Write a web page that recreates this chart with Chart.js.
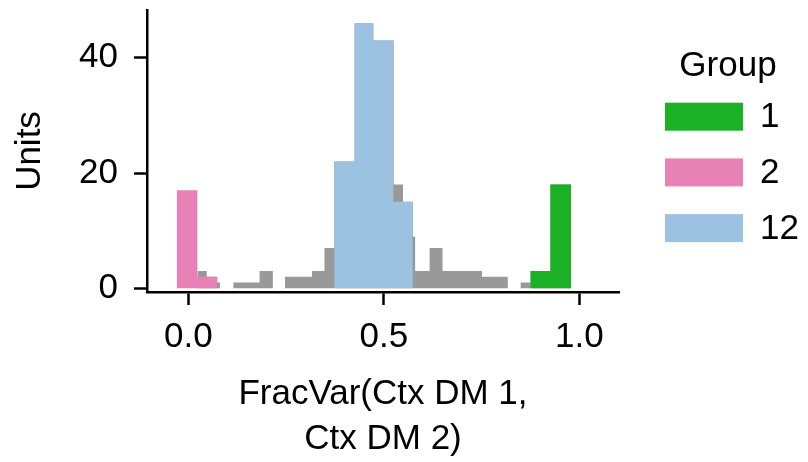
<!DOCTYPE html>
<html>
<head>
<meta charset="utf-8">
<script src="https://cdn.jsdelivr.net/npm/chart.js@4/dist/chart.umd.min.js"></script>
<style>
html,body{margin:0;padding:0;background:#fff;}
canvas{display:block;}
</style>
</head>
<body>
<canvas id="c" width="808" height="462"></canvas>
<script>
// ---- data (bin edges and counts) ----
const xTicks = [0.0, 0.5, 1.0];
const yTicks = [0, 20, 40];

// all units (grey, drawn behind)
const allEdges  = [0.023, 0.047, 0.074, 0.081, 0.115, 0.182, 0.216, 0.247, 0.316, 0.348, 0.373, 0.425, 0.473, 0.525, 0.549, 0.574, 0.580, 0.617, 0.650, 0.751, 0.817, 0.850, 0.875, 0.926, 0.979];
const allCounts = [3, 2, 1, 0, 1, 3, 0, 2, 3, 7, 22, 46, 43, 18, 15, 9, 3, 7, 3, 2, 0, 1, 3, 18];

// Group 1
const g1Edges  = [0.875, 0.926, 0.979];
const g1Counts = [3, 18];
// Group 2
const g2Edges  = [-0.030, 0.023, 0.074];
const g2Counts = [17, 2];
// Group 12
const g12Edges  = [0.373, 0.425, 0.473, 0.524, 0.574];
const g12Counts = [22, 46, 43, 15];

const groupLabels = ['1', '2', '12'];
const groupColors = ['#1bb124', '#e881b5', '#9cc2e2'];
const greyColor = '#999999';

const FONT = '"Liberation Sans", Arial, Helvetica, sans-serif';

function steps(edges, counts) {
  return edges.map((e, i) => ({ x: e, y: i < counts.length ? counts[i] : 0 }));
}

function histDataset(label, edges, counts, color, order) {
  return {
    label: label,
    data: steps(edges, counts),
    stepped: 'before',
    fill: 'origin',
    backgroundColor: color,
    borderColor: 'rgba(0,0,0,0)',
    borderWidth: 0,
    pointRadius: 0,
    pointHoverRadius: 0,
    order: order
  };
}

const legendPlugin = {
  id: 'groupLegend',
  afterDraw(chart) {
    const ctx = chart.ctx;
    ctx.save();
    ctx.font = '35px ' + FONT;
    ctx.fillStyle = '#000';
    ctx.textAlign = 'center';
    ctx.textBaseline = 'middle';
    ctx.fillText('Group', 728, 66);
    groupLabels.forEach((lab, i) => {
      const top = 102.7 + i * 55.7;
      ctx.fillStyle = groupColors[i];
      ctx.fillRect(665, top, 78, 28);
      ctx.fillStyle = '#000';
      ctx.textAlign = 'left';
      ctx.fillText(lab, 760, top + 15);
    });
    ctx.restore();
  }
};

new Chart(document.getElementById('c'), {
  type: 'line',
  data: {
    datasets: [
      histDataset(groupLabels[0], g1Edges, g1Counts, groupColors[0], 1),
      histDataset(groupLabels[1], g2Edges, g2Counts, groupColors[1], 1),
      histDataset(groupLabels[2], g12Edges, g12Counts, groupColors[2], 1),
      histDataset('All', allEdges, allCounts, greyColor, 5)
    ]
  },
  options: {
    responsive: false,
    animation: false,
    layout: { padding: { top: 10, right: 189, bottom: 0, left: 0 } },
    plugins: {
      legend: { display: false },
      tooltip: { enabled: false }
    },
    scales: {
      x: {
        type: 'linear',
        min: -0.106,
        max: 1.1015,
        afterBuildTicks: s => { s.ticks = xTicks.map(v => ({ value: v })); },
        afterFit: s => { s.height = 170; s.paddingLeft = 0; s.paddingRight = 0; },
        ticks: {
          callback: v => Number(v).toFixed(1),
          font: { family: FONT, size: 35 },
          color: '#000',
          padding: 11,
          maxRotation: 0,
          autoSkip: false
        },
        grid: { display: true, drawOnChartArea: false, drawTicks: true, tickLength: 13, tickColor: '#000', tickWidth: 2.5 },
        border: { display: true, color: '#000', width: 2.5 },
        title: {
          display: true,
          text: ['FracVar(Ctx DM 1,', 'Ctx DM 2)'],
          font: { family: FONT, size: 35, lineHeight: 1.29 },
          color: '#000',
          padding: { top: 0, bottom: 0 }
        }
      },
      y: {
        type: 'linear',
        min: -0.65,
        max: 48.3,
        afterBuildTicks: s => { s.ticks = yTicks.map(v => ({ value: v })); },
        afterFit: s => { s.width = 147; s.paddingTop = 0; s.paddingBottom = 0; },
        ticks: {
          font: { family: FONT, size: 35 },
          color: '#000',
          padding: 16
        },
        grid: { display: true, drawOnChartArea: false, drawTicks: true, tickLength: 13, tickColor: '#000', tickWidth: 2.5 },
        border: { display: true, color: '#000', width: 2.5 },
        title: {
          display: true,
          text: 'Units',
          font: { family: FONT, size: 35 },
          color: '#000',
          padding: { top: 9, bottom: 0 }
        }
      }
    }
  },
  plugins: [legendPlugin]
});
</script>
</body>
</html>
